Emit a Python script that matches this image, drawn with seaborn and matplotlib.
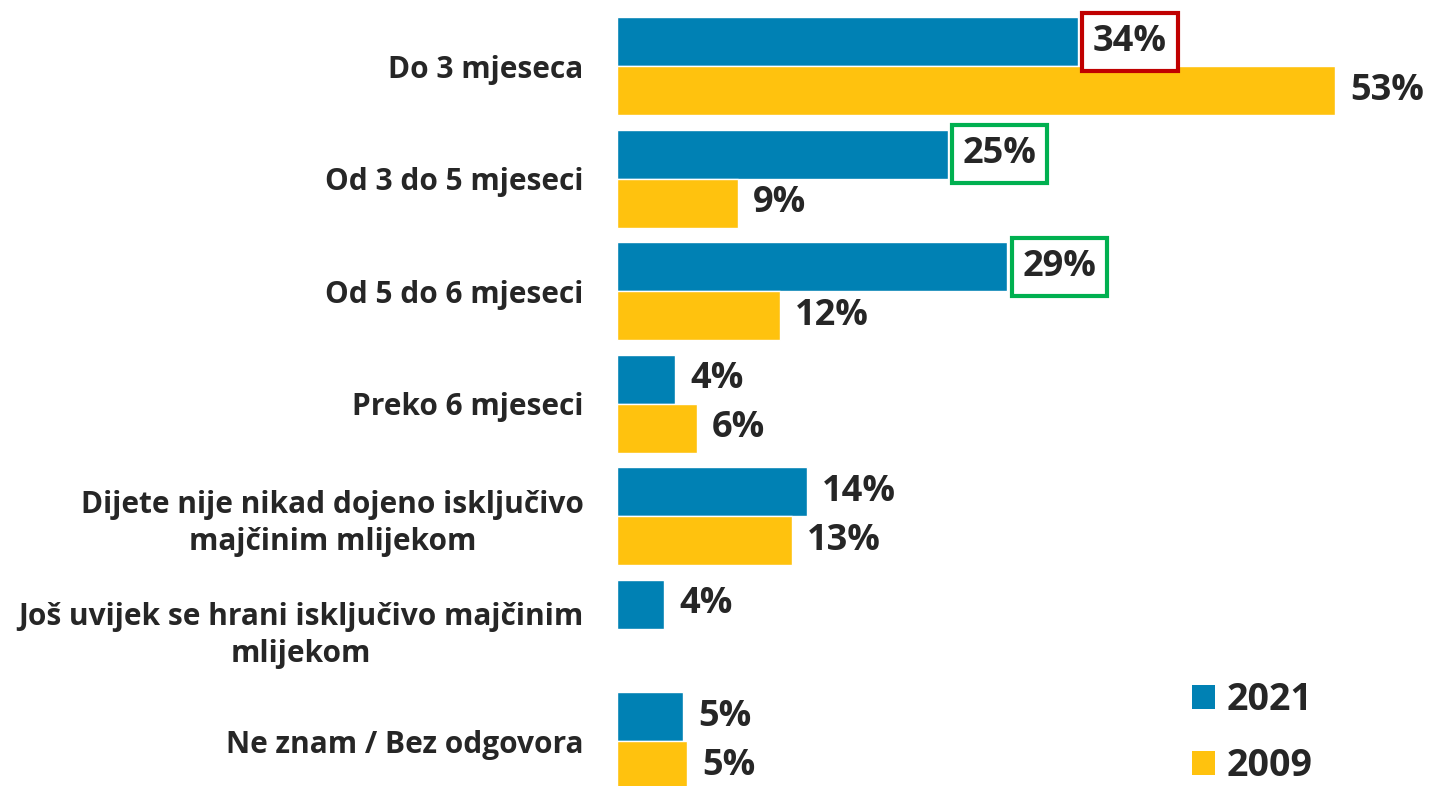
import numpy as np
import pandas as pd
import matplotlib
matplotlib.use("Agg")
import matplotlib.pyplot as plt
import seaborn as sns
from matplotlib.patches import Patch

categories = [
    "Do 3 mjeseca",
    "Od 3 do 5 mjeseci",
    "Od 5 do 6 mjeseci",
    "Preko 6 mjeseci",
    "Dijete nije nikad dojeno isključivo\nmajčinim mlijekom",
    "Još uvijek se hrani isključivo majčinim\nmlijekom",
    "Ne znam / Bez odgovora",
]
series_names = ["2021", "2009"]
values_2021 = [34.0, 24.4, 28.8, 4.3, 14.0, 3.5, 4.9]
values_2009 = [53.0, 8.9, 12.0, 5.9, 12.9, np.nan, 5.2]
labels_2021 = ["34%", "25%", "29%", "4%", "14%", "4%", "5%"]
labels_2009 = ["53%", "9%", "12%", "6%", "13%", "", "5%"]
box_2021 = ["#C00000", "#00B050", "#00B050", None, None, None, None]

colors = ["#0081B4", "#FFC20E"]
text_color = "#262626"

sns.set_theme(style="white")
plt.rcParams["font.family"] = ["Open Sans", "DejaVu Sans"]

df = pd.DataFrame({
    "category": categories * 2,
    "year": [series_names[0]] * len(categories) + [series_names[1]] * len(categories),
    "value": values_2021 + values_2009,
})

W, H = 1429, 786
fig = plt.figure(figsize=(W / 100, H / 100), dpi=100)
ax = fig.add_axes([617 / W, 0, (W - 617) / W, 776 / H])

sns.barplot(data=df, y="category", x="value", hue="year", order=categories,
            hue_order=series_names, palette=colors, width=0.87, orient="h",
            ax=ax, legend=False, saturation=1)

ax.set_xlim(0, 59.9)
ax.set_ylim(6.398, -0.5)
for s in ax.spines.values():
    s.set_visible(False)
ax.set_xticks([])
ax.set_xlabel("")
ax.set_ylabel("")
ax.tick_params(axis="y", length=0, pad=24)
ax.set_yticks(range(len(categories)))
ax.set_yticklabels(categories, fontsize=21.5, fontweight="bold", color=text_color,
                   multialignment="center", linespacing=1.3)

off = 0.87 / 4
xpad = 15 / 13.55
for i in range(len(categories)):
    v = values_2021[i]
    bbox = None
    if box_2021[i]:
        bbox = dict(boxstyle="square,pad=0.3", facecolor="white",
                    edgecolor=box_2021[i], linewidth=3.0)
    ax.text(v + xpad, i - off, labels_2021[i], va="center", ha="left",
            fontsize=26, fontweight="bold", color=text_color, bbox=bbox)
    v2 = values_2009[i]
    if not np.isnan(v2):
        ax.text(v2 + xpad, i + off, labels_2009[i], va="center", ha="left",
                fontsize=26, fontweight="bold", color=text_color)

handles = [Patch(facecolor=c, edgecolor="none") for c in colors]
fig.legend(handles, series_names, loc="center left",
           bbox_to_anchor=(1192 / W, 1 - 733 / H), frameon=False,
           prop=dict(size=27, weight="bold"), labelcolor=text_color,
           handlelength=0.62, handleheight=0.62, handletextpad=0.3,
           labelspacing=0.75, borderpad=0, borderaxespad=0)

fig.savefig("out.png", dpi=100)
